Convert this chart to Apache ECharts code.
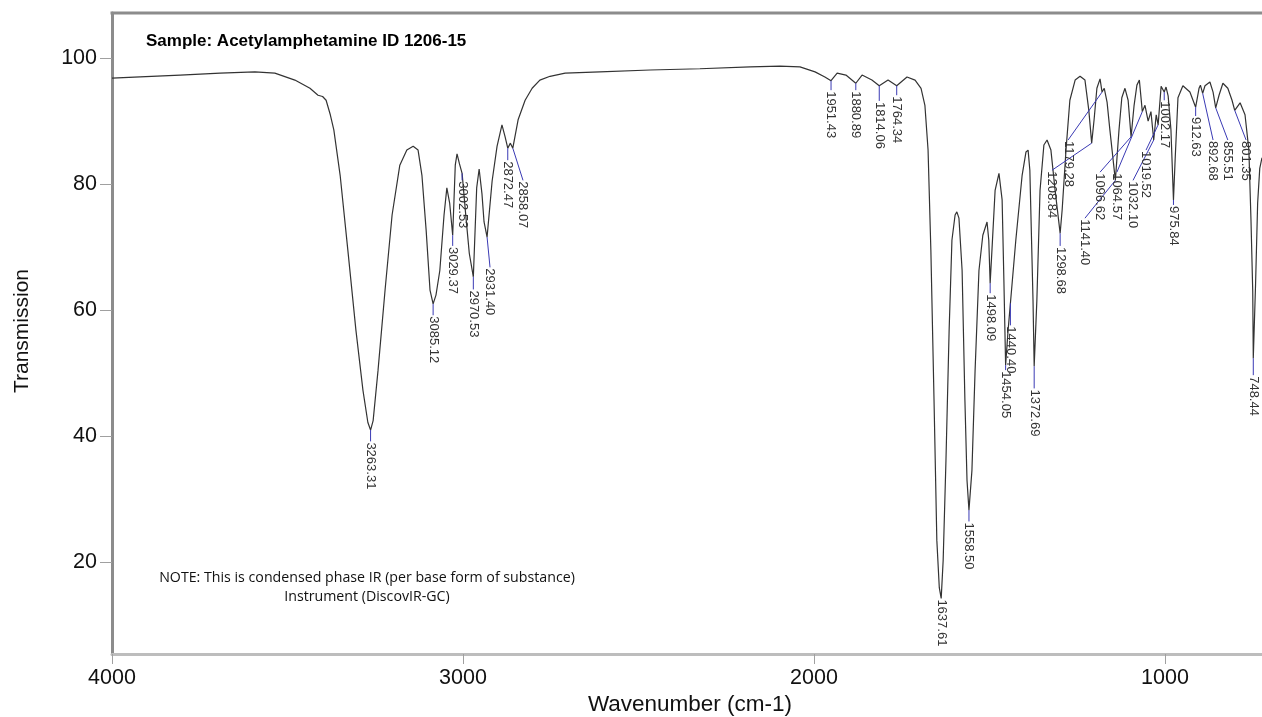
<!DOCTYPE html>
<html>
<head>
<meta charset="utf-8">
<script src="https://cdn.jsdelivr.net/npm/echarts@6/dist/echarts.min.js"></script>
<style>
html,body{margin:0;padding:0;background:#fff;overflow:hidden;}
#chart{width:1262px;height:717px;}
</style>
</head>
<body>
<div id="chart"></div>
<script>
// ---- Data ----
const specWn = [4000,3920,3806,3692,3593,3536,3479,3436,3413,3400,3390,3378,3368,3350,3328,3305,3285,3271,3263.31,3256,3242,3222,3202,3180,3160,3142,3128,3117,3105,3094,3085.12,3077,3066,3054,3046,3038,3029.37,3022,3017,3010,3002.53,2992,2982,2970.53,2961,2954,2946,2940,2931.40,2917,2903,2889,2880,2872.47,2865,2858.07,2843,2823,2803,2781,2752,2709,2610,2467,2325,2182,2097,2040,1997,1969,1951.43,1934,1909,1880.89,1863,1835,1814.06,1789,1764.34,1735,1712,1695,1684,1675,1667,1658,1650,1643,1637.61,1632,1624,1615,1607,1598,1593,1587,1578,1570,1564,1558.50,1550,1541,1530,1519,1507,1502,1498.09,1493,1484,1473,1464,1459,1454.05,1447,1440.40,1436,1425,1407,1396,1390,1385,1376,1372.69,1365,1356,1345,1336,1325,1313,1298.68,1293,1282,1271,1256,1242,1228,1217,1208.84,1202,1194,1185,1179.28,1173,1165,1157,1141.40,1131,1123,1114,1105,1096.62,1088,1080,1073,1064.57,1057,1048,1040,1032.10,1025,1019.52,1011,1002.17,997,991,983,975.84,971,963,949,929,912.63,903,899,892.68,886,872,863,855.51,846,835,821,809,801.35,786,772,761,755,750,748.44,742,736,730,724,700];
const specT = [96.8,97.0,97.3,97.6,97.8,97.6,96.5,95.2,94.1,93.9,93.3,91.0,88.6,81.4,69.5,56.8,47.3,42.2,41.0,42.5,50.5,63.2,75.1,83.0,85.4,86.0,85.4,81.4,72.7,63.2,61.0,62.4,66.3,75.1,79.4,77.0,71.9,83.0,84.8,83.2,81.7,75.0,69.0,65.3,79.4,82.4,78.5,74.0,71.6,80.5,86.0,89.4,87.5,85.7,86.5,85.7,90.2,93.3,95.2,96.5,97.1,97.6,97.8,98.1,98.3,98.6,98.7,98.6,97.8,97.0,96.4,97.6,97.3,96.0,97.3,96.5,95.6,96.5,95.6,97.0,96.5,95.2,92.5,85.4,69.5,45.7,23.5,16.0,14.3,20.3,36.2,56.8,71.1,75.1,75.6,74.6,66.3,45.7,33.0,28.3,34.6,50.5,66.3,71.9,74.0,71.1,64.3,69.5,79.0,81.7,77.5,64.8,51.3,56.8,61.1,60.8,71.1,81.4,85.1,85.4,82.2,61.6,51.1,61.6,79.0,86.2,87.0,85.4,79.0,72.2,75.9,85.4,93.3,96.5,97.1,96.5,91.7,86.5,90.2,95.2,96.7,94.6,95.2,93.0,88.6,80.6,88.6,93.7,95.2,93.3,87.5,92.5,95.7,96.5,91.5,92.5,90.0,91.5,87.0,91.0,89.4,95.5,94.6,95.4,94.0,88.6,77.5,84.0,93.7,95.6,94.6,92.2,95.2,95.7,94.4,95.6,96.2,94.6,92.1,94.1,96.0,95.2,93.3,91.7,92.9,91.0,85.4,74.3,63.0,52.4,64.0,77.0,82.5,84.1,85.0];

// Peak annotations: peak position, and where its label starts (data units)
const peakWn  = [3263.31,3085.12,3029.37,3002.53,2970.53,2931.40,2872.47,2858.07,1951.43,1880.89,1814.06,1764.34,1637.61,1558.50,1498.09,1454.05,1440.40,1372.69,1298.68,1208.84,1179.28,1141.40,1096.62,1064.57,1032.10,1019.52,1002.17,975.84,912.63,892.68,855.51,801.35,748.44];
const peakT   = [41.0,61.0,71.9,81.7,65.3,71.6,85.7,85.7,96.4,96.0,95.6,95.6,14.3,28.3,64.3,51.3,61.1,51.1,72.2,86.5,94.6,80.6,87.5,91.5,87.0,89.4,94.6,77.5,92.2,94.4,92.1,91.7,52.4];
const labelWn = [3263.31,3085.12,3029.37,3002.53,2970.53,2923,2872.47,2829,1951.43,1880.89,1814.06,1764.34,1637.61,1558.50,1498.09,1454.05,1440.40,1372.69,1298.68,1322,1276,1228,1185,1137,1091,1054,1002.17,975.84,912.63,863,821,769,748.44];
const labelT  = [39.2,59.2,70.2,80.6,63.3,66.8,83.8,80.6,94.9,94.9,93.2,94.1,14.3,26.5,62.7,50.5,57.6,47.6,70.2,82.2,87.0,74.6,81.9,81.9,80.6,85.4,93.3,76.7,90.8,87.0,87.0,87.0,49.7];

const yTicks = [20,40,60,80,100];
const xTicks = [4000,3000,2000,1000];

const titleText = 'Sample: Acetylamphetamine ID 1206-15';
const noteLines = ['NOTE: This is condensed phase IR (per base form of substance)', 'Instrument (DiscovIR-GC)'];

// ---- Build ----
const spectrum = specWn.map((w,i)=>[w, specT[i]]);
const peaks = peakWn.map((w,i)=>[w, peakT[i], labelWn[i], labelT[i]]);

const chart = echarts.init(document.getElementById('chart'), null, {renderer:'canvas'});
const FONT = '"Liberation Sans", Arial, sans-serif';

chart.setOption({
  backgroundColor:'#fff',
  animation:false,
  grid:{left:112, top:13, bottom:63, right:0, show:false},
  xAxis:{
    type:'value', inverse:true, min:723.6, max:4000,
    axisLine:{show:true, onZero:false, lineStyle:{color:'#bdbdbd', width:3}},
    axisTick:{show:true, length:10, lineStyle:{color:'#a0a0a0', width:1}, customValues:xTicks},
    axisLabel:{fontSize:21.5, color:'#111', margin:13, fontFamily:FONT, customValues:xTicks, formatter:v=>String(v)},
    splitLine:{show:false}
  },
  yAxis:{
    type:'value', min:5.48, max:107.14,
    axisLine:{show:true, onZero:false, lineStyle:{color:'#8c8c8c', width:3}},
    axisTick:{show:true, length:12, lineStyle:{color:'#a0a0a0', width:1}, customValues:yTicks},
    axisLabel:{fontSize:21.5, color:'#111', margin:15, fontFamily:FONT, customValues:yTicks, formatter:v=>String(v)},
    splitLine:{show:false}
  },
  graphic:[
    {type:'line', shape:{x1:110.5, y1:13, x2:1262, y2:13}, style:{stroke:'#8c8c8c', lineWidth:3}, z:10},
    {type:'text', x:146, y:41, style:{text:titleText, font:'bold 17px '+FONT, fill:'#000', textVerticalAlign:'middle'}},
    {type:'text', x:367, y:578, style:{text:noteLines[0], font:'14.2px "Open Sans", sans-serif', fill:'#111', textAlign:'center', textVerticalAlign:'middle'}},
    {type:'text', x:367, y:597, style:{text:noteLines[1], font:'14.2px "Open Sans", sans-serif', fill:'#111', textAlign:'center', textVerticalAlign:'middle'}},
    {type:'text', x:690, y:705, style:{text:'Wavenumber (cm-1)', font:'22.5px '+FONT, fill:'#111', textAlign:'center', textVerticalAlign:'middle'}},
    {type:'text', x:22, y:331, rotation:Math.PI/2, style:{text:'Transmission', font:'21px '+FONT, fill:'#111', textAlign:'center', textVerticalAlign:'middle'}}
  ],
  series:[
    {
      type:'line', data:spectrum, showSymbol:false, symbol:'none',
      lineStyle:{color:'#333', width:1.2}, z:3, clip:true
    },
    {
      type:'custom', data:peaks, clip:false, z:4,
      encode:{x:0, y:1},
      renderItem:function(params, api){
        const p = api.coord([api.value(0), api.value(1)]);
        const a = api.coord([api.value(2), api.value(3)]);
        const txt = Number(api.value(0)).toFixed(2);
        return {type:'group', children:[
          {type:'line', shape:{x1:p[0], y1:p[1], x2:a[0], y2:a[1]}, style:{stroke:'#3a3ab4', lineWidth:1}},
          {type:'text', x:a[0], y:a[1]+1, rotation:-Math.PI/2,
           style:{text:txt, font:'13px '+FONT, fill:'#333', textAlign:'left', textVerticalAlign:'middle'}}
        ]};
      }
    }
  ]
});
</script>
</body>
</html>
